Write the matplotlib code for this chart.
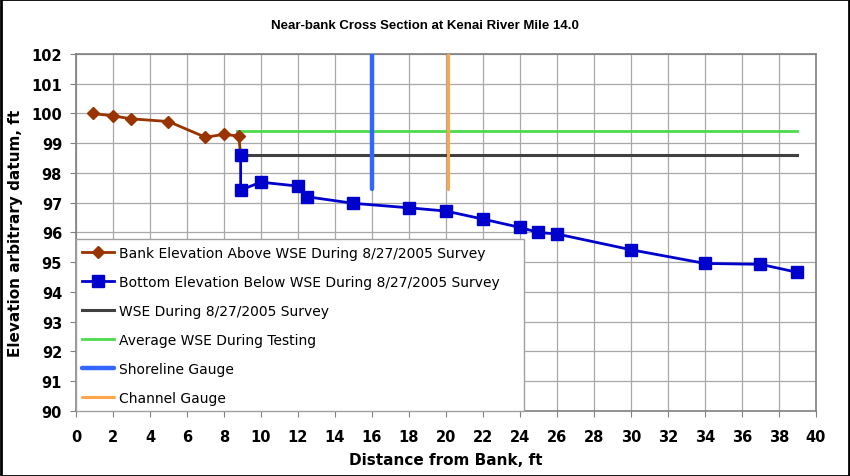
import matplotlib
matplotlib.use("Agg")
import matplotlib.pyplot as plt
from matplotlib.patches import Rectangle

plt.rcParams['font.family'] = ['DejaVu Sans']

# bank elevation above WSE (brown diamonds)
bank_x = [0.9, 2, 3, 5, 7, 8, 8.8, 8.9]
bank_y = [100.0, 99.92, 99.82, 99.73, 99.2, 99.3, 99.24, 98.6]

# bottom elevation below WSE (blue squares)
bottom_x = [8.9, 8.9, 10, 12, 12.5, 15, 18, 20, 22, 24, 25, 26, 30, 34, 37, 39]
bottom_y = [98.6, 97.43, 97.69, 97.56, 97.2, 96.98, 96.83, 96.72, 96.45, 96.17,
            96.0, 95.95, 95.42, 94.96, 94.93, 94.66]

# water surface lines
wse_x = [8.9, 39]
wse_y = [98.6, 98.6]
avg_x = [8.7, 39]
avg_y = [99.4, 99.4]

# gauges
shore_x = [16, 16]
shore_y = [97.45, 102.1]
chan_x = [20.1, 20.1]
chan_y = [97.45, 102.1]

fig = plt.figure(figsize=(8.5, 4.77), dpi=100)
ax = fig.add_axes([0.0894, 0.1363, 0.8706, 0.7484])

ax.plot(bank_x, bank_y, color='#993300', lw=2, marker='D', ms=6.5,
        label='Bank Elevation Above WSE During 8/27/2005 Survey', zorder=5)
ax.plot(bottom_x, bottom_y, color='#0000CC', lw=2, marker='s', ms=8,
        label='Bottom Elevation Below WSE During 8/27/2005 Survey', zorder=6)
ax.plot(wse_x, wse_y, color='#404040', lw=2.2,
        label='WSE During 8/27/2005 Survey', zorder=4)
ax.plot(avg_x, avg_y, color='#4CDB4C', lw=2,
        label='Average WSE During Testing', zorder=4)
ax.plot(shore_x, shore_y, color='#3366FF', lw=3.2,
        label='Shoreline Gauge', zorder=4, solid_capstyle='round')
ax.plot(chan_x, chan_y, color='#FFA64D', lw=2.2,
        label='Channel Gauge', zorder=4, solid_capstyle='round')

ax.set_xlim(0, 40)
ax.set_ylim(90, 102)
ax.set_xticks(range(0, 41, 2))
ax.set_yticks(range(90, 103, 1))
ax.grid(True, color='#a8a8a8', lw=0.9)
ax.set_axisbelow(True)
for s in ax.spines.values():
    s.set_color('#808080')
    s.set_linewidth(1.2)
ax.tick_params(colors='#808080', length=4, labelcolor='black', labelsize=10.5)
ax.tick_params(axis='x', pad=9)
ax.tick_params(axis='y', pad=6)
for lab in ax.get_xticklabels() + ax.get_yticklabels():
    lab.set_fontweight('bold')

ax.set_xlabel('Distance from Bank, ft', fontsize=11, fontweight='bold', labelpad=6)
ax.set_ylabel('Elevation arbitrary datum, ft', fontsize=11, fontweight='bold', labelpad=6)
fig.text(0.5, 0.945, 'Near-bank Cross Section at Kenai River Mile 14.0',
         ha='center', va='center', fontsize=9.5, fontweight='bold',
         family='Liberation Sans')

leg = ax.legend(loc='lower left', bbox_to_anchor=(0.0, 0.0, 0.605, 0.485),
                mode='expand', fontsize=10, handlelength=2.3, labelspacing=1.08,
                borderpad=0.45, handletextpad=0.35, fancybox=False, framealpha=1,
                edgecolor='#a0a0a0', borderaxespad=0)
leg.get_frame().set_linewidth(1)
leg.set_zorder(10)

fig.patches.append(Rectangle((0.001, 0.001), 0.998, 0.998, transform=fig.transFigure,
                             fill=False, edgecolor='black', lw=2))

fig.savefig('out.png', dpi=100)
